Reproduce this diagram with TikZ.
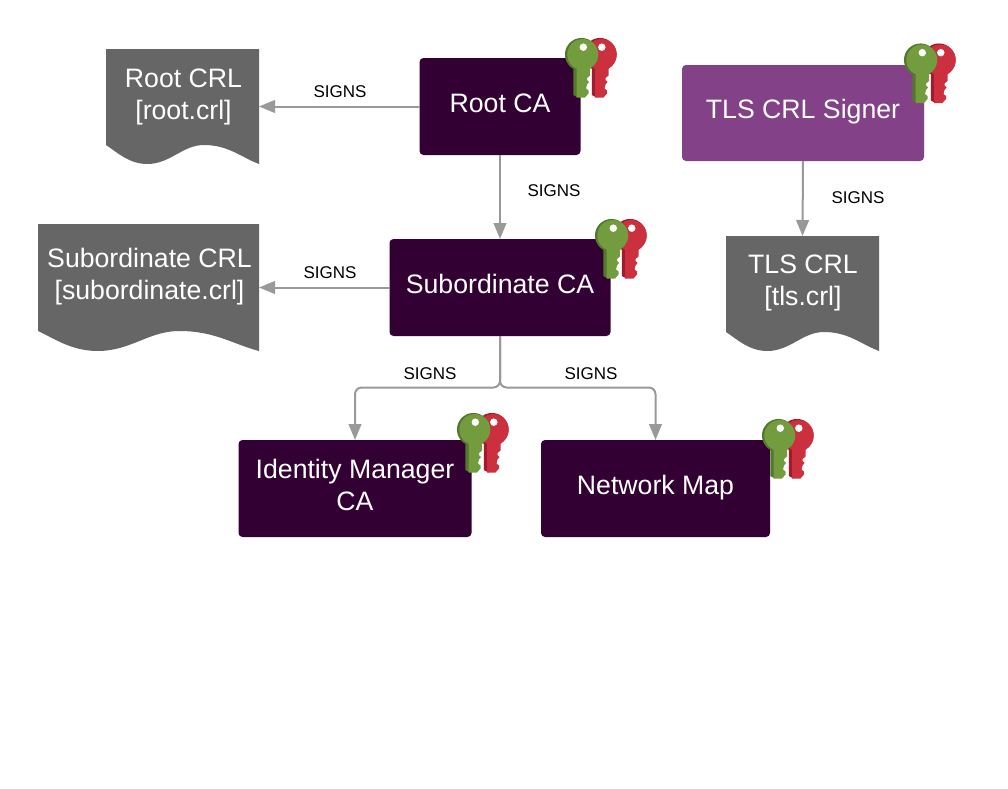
\documentclass[tikz,border=0pt]{standalone}
\usepackage{fontspec}
\setmainfont{Liberation Sans}
\usetikzlibrary{arrows.meta,positioning}
\definecolor{cadark}{HTML}{330033}
\definecolor{tlspurple}{HTML}{834187}
\definecolor{docgrey}{HTML}{666666}
\definecolor{linegrey}{HTML}{999999}
\definecolor{keygreen}{HTML}{739C3E}
\definecolor{keygreend}{HTML}{54772E}
\definecolor{keyred}{HTML}{CC2F3E}
\definecolor{keyredd}{HTML}{A11A2E}
\tikzset{
  x=0.75pt,y=-0.75pt,
  captext/.style={text=white,font=\fontsize{20}{24}\selectfont,align=center,inner sep=0pt},
  cabox/.style={fill=cadark,rounded corners=3pt,inner sep=0pt,outer sep=0pt},
  tlsbox/.style={cabox,fill=tlspurple},
  docshape/.style={inner sep=0pt,outer sep=0pt},
  signs/.style={font=\fontsize{12.75}{15}\selectfont,inner sep=0pt},
  conn/.style={draw=linegrey,line width=1.5pt,-{Triangle[length=12pt,width=9.5pt]},rounded corners=5pt},
  pics/keyone/.style 2 args={code={
    \fill[#2] (16.5,16) circle [radius=12.4pt];
    \fill[#2] (8.3,28) -- (13,28) -- (13,59) -- (8.3,56.5) -- cycle;
    \fill[#1] (17.8,16) circle [radius=11.6pt];
    \fill[#1] (11.5,28) -- (25,28) -- (25,37) -- (22,39.5) -- (22,41.5) -- (24,43.5) -- (22,46) -- (21,50) -- (23.5,52) -- (23.5,55) -- (20,59) -- (11.5,59) -- cycle;
    \fill[white] (18.3,8.7) circle [radius=2.8pt];
  }},
  pics/keypair/.style={code={
    \pic at (18.5,0) {keyone={keyred}{keyredd}};
    \pic at (0,0) {keyone={keygreen}{keygreend}};
  }}
}
\newcommand{\docpath}[6]{% x, top, width, left-bottom, right-bottom, colour
  \fill[#6] (#1,#2) -- (#1+#3,#2) -- (#1+#3,#5)
    .. controls (#1+#3*0.88,#5-7) and (#1+#3*0.80,#4) .. (#1+#3*0.64,#4)
    .. controls (#1+#3*0.50,#4) and (#1+#3*0.42,#5) .. (#1+#3*0.27,#5)
    .. controls (#1+#3*0.15,#5) and (#1+#3*0.07,#4+7) .. (#1,#4) -- cycle;
}
\begin{document}
\begin{tikzpicture}
\useasboundingbox (0,0) rectangle (1008,789);
\fill[white] (0,0) rectangle (1008,789);

\docpath{106}{49}{153}{145}{164}{docgrey}
\docpath{38}{224}{221}{331}{351}{docgrey}
\docpath{726}{236}{153}{332}{351}{docgrey}

\node[docshape,minimum width=114.75pt,minimum height=86.25pt] (rootcrl) at (182.5,106.5) {};
\node[docshape,minimum width=165.75pt,minimum height=95.25pt] (subcrl) at (148.5,287.5) {};
\node[docshape,minimum width=114.75pt,minimum height=86.25pt] (tlscrl) at (802.5,293.5) {};
\node[captext] (rootcrltext) at (183.5,97) {Root CRL\\{}[root.crl]};
\node[captext] (subcrltext) at (149.5,276.5) {Subordinate CRL\\{}[subordinate.crl]};
\node[captext] (tlscrltext) at (803,283) {TLS CRL\\{}[tls.crl]};

\node[cabox,minimum width=120.75pt,minimum height=72.75pt,label={[captext,name=roottext,yshift=2.25pt]center:Root CA}] (root) at (500,106.5) {};
\node[cabox,minimum width=165.75pt,minimum height=72.75pt,label={[captext,name=subtext,yshift=2.6pt]center:Subordinate CA}] (sub) at (500,287.5) {};
\node[tlsbox,minimum width=181.5pt,minimum height=72pt,label={[captext,name=tlstext,yshift=.75pt]center:TLS CRL Signer}] (tls) at (803,113) {};
\node[cabox,minimum width=174.75pt,minimum height=72.75pt,label={[captext,name=idmtext,yshift=3pt]center:Identity Manager\\CA}] (idm) at (355,488.5) {};
\node[cabox,minimum width=171.75pt,minimum height=72.75pt,label={[captext,name=nmtext,yshift=.75pt]center:Network Map}] (nm) at (655.5,488.5) {};

\draw[conn] (root.west) -- (rootcrl.east);
\draw[conn] (root.south) -- (sub.north);
\draw[conn] (sub.west) -- (subcrl.east);
\draw[conn] (tls.south) -- (tlscrl.north);
\coordinate (split) at (500,387.5);
\draw[conn] (sub.south) -- (split) -| (idm.north);
\draw[conn] (sub.south) -- (split) -| (nm.north);

\node[signs] (s1) at (340,92) {SIGNS};
\node[signs] (s2) at (554,191) {SIGNS};
\node[signs] (s3) at (330,273) {SIGNS};
\node[signs] (s4) at (430,374) {SIGNS};
\node[signs] (s5) at (591,374) {SIGNS};
\node[signs] (s6) at (858,197.5) {SIGNS};

\pic at (565,38.5) {keypair};
\pic at (595,219.5) {keypair};
\pic at (904,44) {keypair};
\pic at (457,413.5) {keypair};
\pic at (762,419.5) {keypair};
\end{tikzpicture}
\end{document}
